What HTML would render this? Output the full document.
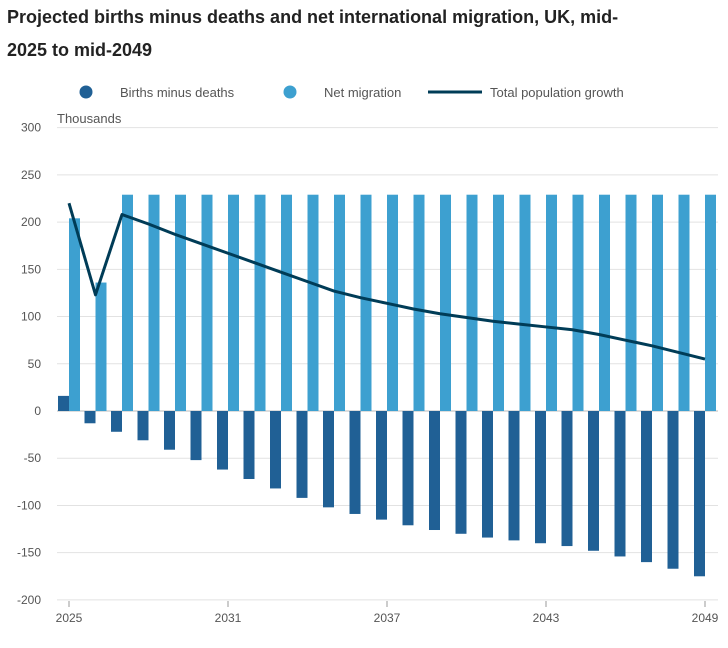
<!DOCTYPE html>
<html><head><meta charset="utf-8"><style>
body{margin:0;background:#fff;font-family:"Liberation Sans",sans-serif;}
svg text{font-family:"Liberation Sans",sans-serif;}
</style></head><body>
<svg id="chart" width="728" height="643" xmlns="http://www.w3.org/2000/svg">
<text x="7" y="23" font-size="18" font-weight="bold" fill="#222">Projected births minus deaths and net international migration, UK, mid-</text>
<text x="7" y="56" font-size="18" font-weight="bold" fill="#222">2025 to mid-2049</text>
<g>
<circle cx="86" cy="92" r="6.5" fill="#206095"/>
<text x="120" y="97" font-size="13" fill="#555">Births minus deaths</text>
<circle cx="290" cy="92" r="6.5" fill="#3da0d0"/>
<text x="324" y="97" font-size="13" fill="#555">Net migration</text>
<line x1="428" y1="92" x2="482" y2="92" stroke="#003c57" stroke-width="3"/>
<text x="490" y="97" font-size="13" fill="#555">Total population growth</text>
</g>
<text x="57" y="123" font-size="13" fill="#555">Thousands</text>
<g id="grid"></g><g id="bars"></g><g id="line"></g><g id="xaxis"></g>
</svg>
<script>
const years=[2025,2026,2027,2028,2029,2030,2031,2032,2033,2034,2035,2036,2037,2038,2039,2040,2041,2042,2043,2044,2045,2046,2047,2048,2049];
const birthsMinusDeaths=[16,-13,-22,-31,-41,-52,-62,-72,-82,-92,-102,-109,-115,-121,-126,-130,-134,-137,-140,-143,-148,-154,-160,-167,-175];
const netMigration=[204,136,229,229,229,229,229,229,229,229,229,229,229,229,229,229,229,229,229,229,229,229,229,229,229];
const totalGrowth=[220,123,208,198,187,177,167,157,147,137,127,120,114,108,103,99,95,92,89,86,81,75,69,62,55];
const yTicks=[300,250,200,150,100,50,0,-50,-100,-150,-200];
const xTickYears=[2025,2031,2037,2043,2049];
const NS="http://www.w3.org/2000/svg";
const y=v=>411-v*0.9445;
const x=i=>69+i*26.5;
const bw=11;
function mk(t,a,p){const e=document.createElementNS(NS,t);for(const k in a)e.setAttribute(k,a[k]);p.appendChild(e);return e;}
const grid=document.getElementById('grid');
yTicks.forEach(v=>{
 const l=mk('line',{x1:57,x2:718,y1:y(v),y2:y(v),stroke:v===0?'#bbb':'#e2e2e2','stroke-width':1},grid);
 
 
 const t=mk('text',{x:41,y:y(v)+4,'font-size':12,fill:'#555','text-anchor':'end'},grid);
 t.textContent=v;
 
 
});
const bars=document.getElementById('bars');
years.forEach((yr,i)=>{
 const b=birthsMinusDeaths[i];
 const r1=mk('rect',{x:x(i)-bw,y:Math.min(y(b),y(0)),width:bw,height:Math.abs(y(b)-y(0)),fill:'#206095'},bars);
 
 
 const m=netMigration[i];
 const r2=mk('rect',{x:x(i),y:Math.min(y(m),y(0)),width:bw,height:Math.abs(y(m)-y(0)),fill:'#3da0d0'},bars);
 
 
});
const lg=document.getElementById('line');
const pl=mk('polyline',{points:totalGrowth.map((v,i)=>x(i)+','+y(v)).join(' '),fill:'none',stroke:'#003c57','stroke-width':3,'stroke-linejoin':'round'},lg);


const xa=document.getElementById('xaxis');
xTickYears.forEach(yr=>{
 const i=years.indexOf(yr);
 const tk=mk('line',{x1:x(i),x2:x(i),y1:601,y2:607,stroke:'#999'},xa);
 
 
 const t=mk('text',{x:x(i),y:622,'font-size':12,fill:'#555','text-anchor':'middle'},xa);
 t.textContent=yr;
 
 
});
</script>
</body></html>
